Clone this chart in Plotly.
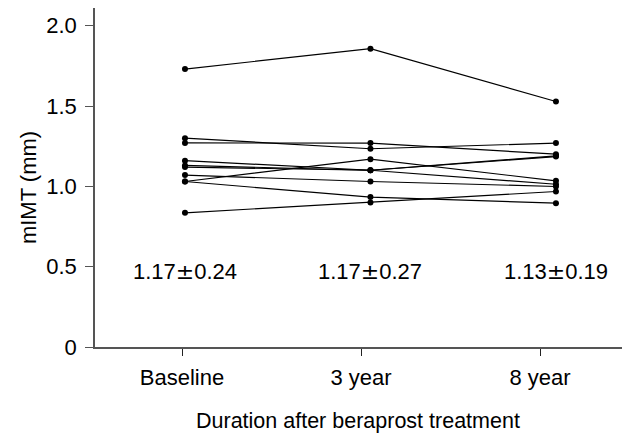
import plotly.graph_objects as go

categories = ["Baseline", "3 year", "8 year"]
baseline = [1.73, 1.30, 1.27, 1.16, 1.13, 1.12, 1.07, 1.03, 1.03, 0.835]
year3 = [1.857, 1.234, 1.269, 1.10, 1.10, 1.10, 1.03, 1.169, 0.933, 0.90]
year8 = [1.528, 1.269, 1.20, 1.19, 1.185, 1.013, 0.999, 1.034, 0.895, 0.968]
means = ["1.17", "1.17", "1.13"]
sds = ["0.24", "0.27", "0.19"]
y_ticks = [0, 0.5, 1.0, 1.5, 2.0]
y_tick_labels = ["0", "0.5", "1.0", "1.5", "2.0"]

FONT = "Liberation Sans, Arial, sans-serif"
FS = 22

fig = go.Figure()

for b, t3, t8 in zip(baseline, year3, year8):
    fig.add_trace(go.Scatter(
        x=categories, y=[b, t3, t8], mode="lines+markers",
        line=dict(color="black", width=1.2),
        marker=dict(color="black", size=6),
        showlegend=False, hoverinfo="skip", xaxis="x", yaxis="y"))

# invisible trace to drive the tick axis
fig.add_trace(go.Scatter(x=[0, 1, 2], y=[None, None, None], mode="markers",
                         showlegend=False, hoverinfo="skip", xaxis="x2", yaxis="y"))

for c, m, s in zip(categories, means, sds):
    txt = m + "<span style='font-family:DejaVu Sans'>±</span>" + s
    fig.add_annotation(x=c, y=0.467, xref="x", yref="y", text=txt, showarrow=False,
                       font=dict(family=FONT, size=FS, color="black"),
                       xanchor="center", yanchor="middle")

fig.add_annotation(xref="paper", yref="paper", x=-0.127, y=0.469, text="mIMT (mm)",
                   textangle=-90, showarrow=False, xanchor="center", yanchor="middle",
                   font=dict(family=FONT, size=FS, color="black"))
fig.add_annotation(xref="paper", yref="paper", x=0.499, y=-0.2575,
                   text="Duration after beraprost treatment", showarrow=False,
                   xanchor="center", yanchor="bottom", borderpad=0,
                   font=dict(family=FONT, size=FS - 0.5, color="black"))

fig.update_layout(
    width=622, height=435,
    margin=dict(l=95, r=0, t=8, b=88),
    plot_bgcolor="white", paper_bgcolor="white",
    font=dict(family=FONT, size=FS, color="black"),
    xaxis=dict(type="category", categoryarray=categories, range=[-0.485, 2.356],
               showline=False, showgrid=False, zeroline=False, showticklabels=False,
               ticks=""),
    xaxis2=dict(overlaying="x", side="bottom", anchor="y", range=[-0.486, 2.458],
                tickvals=[0, 1, 2], ticktext=categories,
                showline=True, linecolor="#555555", linewidth=1.5,
                ticks="outside", ticklen=7, tickwidth=1.2, tickcolor="#222222",
                showgrid=False, zeroline=False,
                tickfont=dict(family=FONT, size=FS, color="black"),
                ticklabelstandoff=3),
    yaxis=dict(range=[0, 2.11], tickvals=y_ticks, ticktext=y_tick_labels,
               showline=True, linecolor="#555555", linewidth=1.5,
               ticks="outside", ticklen=8, tickwidth=1.2, tickcolor="#555555",
               showgrid=False, zeroline=False,
               tickfont=dict(family=FONT, size=FS, color="black"),
               ticklabelstandoff=4),
)

fig.write_html("out.html")
